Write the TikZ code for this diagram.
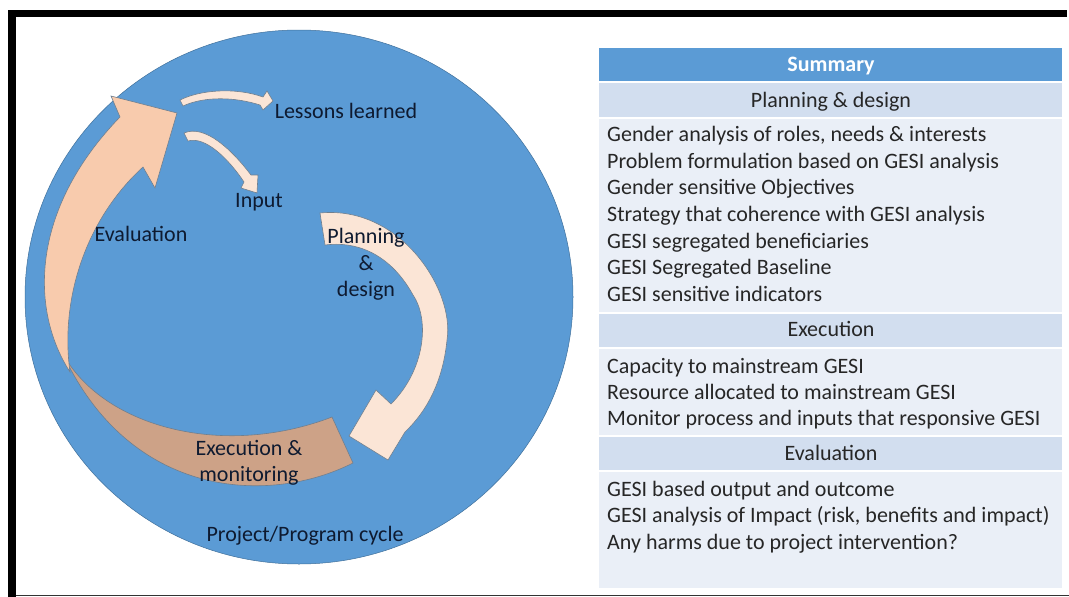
\documentclass[tikz,border=0pt]{standalone}
\usepackage{fontspec}
\setmainfont{Carlito}
\usetikzlibrary{shapes.geometric}
\definecolor{circblue}{HTML}{5B9BD5}
\definecolor{circline}{HTML}{41719C}
\definecolor{peach}{HTML}{F8CBAD}
\definecolor{lightpeach}{HTML}{FBE5D6}
\definecolor{brownarr}{HTML}{CDA287}
\definecolor{arrline}{HTML}{6F7F8F}
\definecolor{labelc}{HTML}{0E1A30}
\definecolor{hdrblue}{HTML}{5B9BD5}
\definecolor{subhdr}{HTML}{D2DEEF}
\definecolor{bodyc}{HTML}{EAEFF7}
\tikzset{
  lbl/.style={font=\fontsize{22}{26}\selectfont, text=labelc, inner sep=0pt, yshift=-2.5pt},
  shape arrow/.style={draw=arrline, line width=0.6pt, line join=miter},
  tabtxt/.style={font=\fontsize{22}{26}\selectfont, text=black!85, inner sep=0pt, anchor=west, text height=15pt, text depth=3pt},
  tabhead/.style={font=\fontsize{22}{26}\selectfont, text=black!85, inner sep=0pt, text height=15pt, text depth=3pt},
}
\begin{document}
\begin{tikzpicture}[x=1pt,y=-1pt]
\useasboundingbox (0,0) rectangle (1069,597);
\fill[white] (0,0) rectangle (1069,597);
% frame
\fill[black] (8,10) rectangle (1067,17);
\fill[black] (8,10) rectangle (16,597);
\draw[black!80, line width=1pt] (16,595.5) -- (1069,595.5);

% circle
\node[ellipse, draw=circline, line width=0.5pt, fill=circblue, minimum width=548pt, minimum height=534pt, inner sep=0pt] (cyc) at (299,297) {};

% execution arrow (brown)
\path[shape arrow, fill=brownarr] (62,352) .. controls (100,425) and (220,460) .. (332,417)
  -- (353,463) .. controls (270,505) and (130,500) .. (62,352) -- cycle;

% evaluation arrow (peach)
\path[shape arrow, fill=peach] (70,372) .. controls (30,310) and (30,210) .. (120,117)
  -- (111,96) -- (177,113) -- (155,188) -- (143,167)
  .. controls (85,220) and (60,300) .. (70,372) -- cycle;

% planning arrow
\path[shape arrow, fill=lightpeach] (320,213) .. controls (400,205) and (455,290) .. (447,340)
  .. controls (443,380) and (428,410) .. (405,432)
  -- (388,460) -- (349,436) -- (376,390) -- (391,404)
  .. controls (425,370) and (430,320) .. (413,295)
  .. controls (395,262) and (365,240) .. (325,245) -- cycle;

% lessons arrow
\path[shape arrow, fill=lightpeach] (180,100) .. controls (200,90) and (235,87) .. (263,97)
  -- (267,91) -- (273,101) -- (263,110) -- (260,105)
  .. controls (235,97) and (205,96) .. (183,106) -- cycle;

% input arrow
\path[shape arrow, fill=lightpeach] (184,133) .. controls (205,124) and (232,150) .. (251,175)
  -- (258,175) -- (257,193) -- (241,188) -- (244,182)
  .. controls (228,158) and (205,136) .. (188,141) -- cycle;

% circle labels
\node[lbl] (lessons) at (346,108) {Lessons learned};
\node[lbl] (input) at (259,200) {Input};
\node[lbl] (eval) at (141,231) {Evaluation};
\node[lbl, align=center, font=\fontsize{22}{26.5}\selectfont] (plan) at (366,262) {Planning\\\&\\design};
\node[lbl, align=center, font=\fontsize{22}{26}\selectfont] (exec) at (249,460) {Execution \&\\monitoring};
\node[lbl] (cycle) at (305,533) {Project/Program cycle};

% table
\fill[hdrblue] (599,48) rectangle (1062,81);
\fill[subhdr] (599,83) rectangle (1062,117);
\fill[bodyc] (599,119) rectangle (1062,312);
\fill[subhdr] (599,314) rectangle (1062,347);
\fill[bodyc] (599,349) rectangle (1062,435);
\fill[subhdr] (599,437) rectangle (1062,470);
\fill[bodyc] (599,472) rectangle (1062,588);

\node[tabhead, text=white, font=\bfseries\fontsize{22}{26}\selectfont] (sum) at (831,65) {Summary};
\node[tabhead] (hplan) at (831,101) {Planning \& design};
\node[tabtxt] (p1) at (607,135) {Gender analysis of roles, needs \& interests};
\node[tabtxt] (p2) at (607,162) {Problem formulation based on GESI analysis};
\node[tabtxt] (p3) at (607,188) {Gender sensitive Objectives};
\node[tabtxt] (p4) at (607,215) {Strategy that coherence with GESI analysis};
\node[tabtxt] (p5) at (607,242) {GESI segregated beneficiaries};
\node[tabtxt] (p6) at (607,268) {GESI Segregated Baseline};
\node[tabtxt] (p7) at (607,295) {GESI sensitive indicators};
\node[tabhead] (hexec) at (831,330) {Execution};
\node[tabtxt] (e1) at (607,367) {Capacity to mainstream GESI};
\node[tabtxt] (e2) at (607,393) {Resource allocated to mainstream GESI};
\node[tabtxt] (e3) at (607,419) {Monitor process and inputs that responsive GESI};
\node[tabhead] (heval) at (831,454) {Evaluation};
\node[tabtxt] (v1) at (607,490) {GESI based output and outcome};
\node[tabtxt] (v2) at (607,516) {GESI analysis of Impact (risk, benefits and impact)};
\node[tabtxt] (v3) at (607,543) {Any harms due to project intervention?};
\end{tikzpicture}
\end{document}
